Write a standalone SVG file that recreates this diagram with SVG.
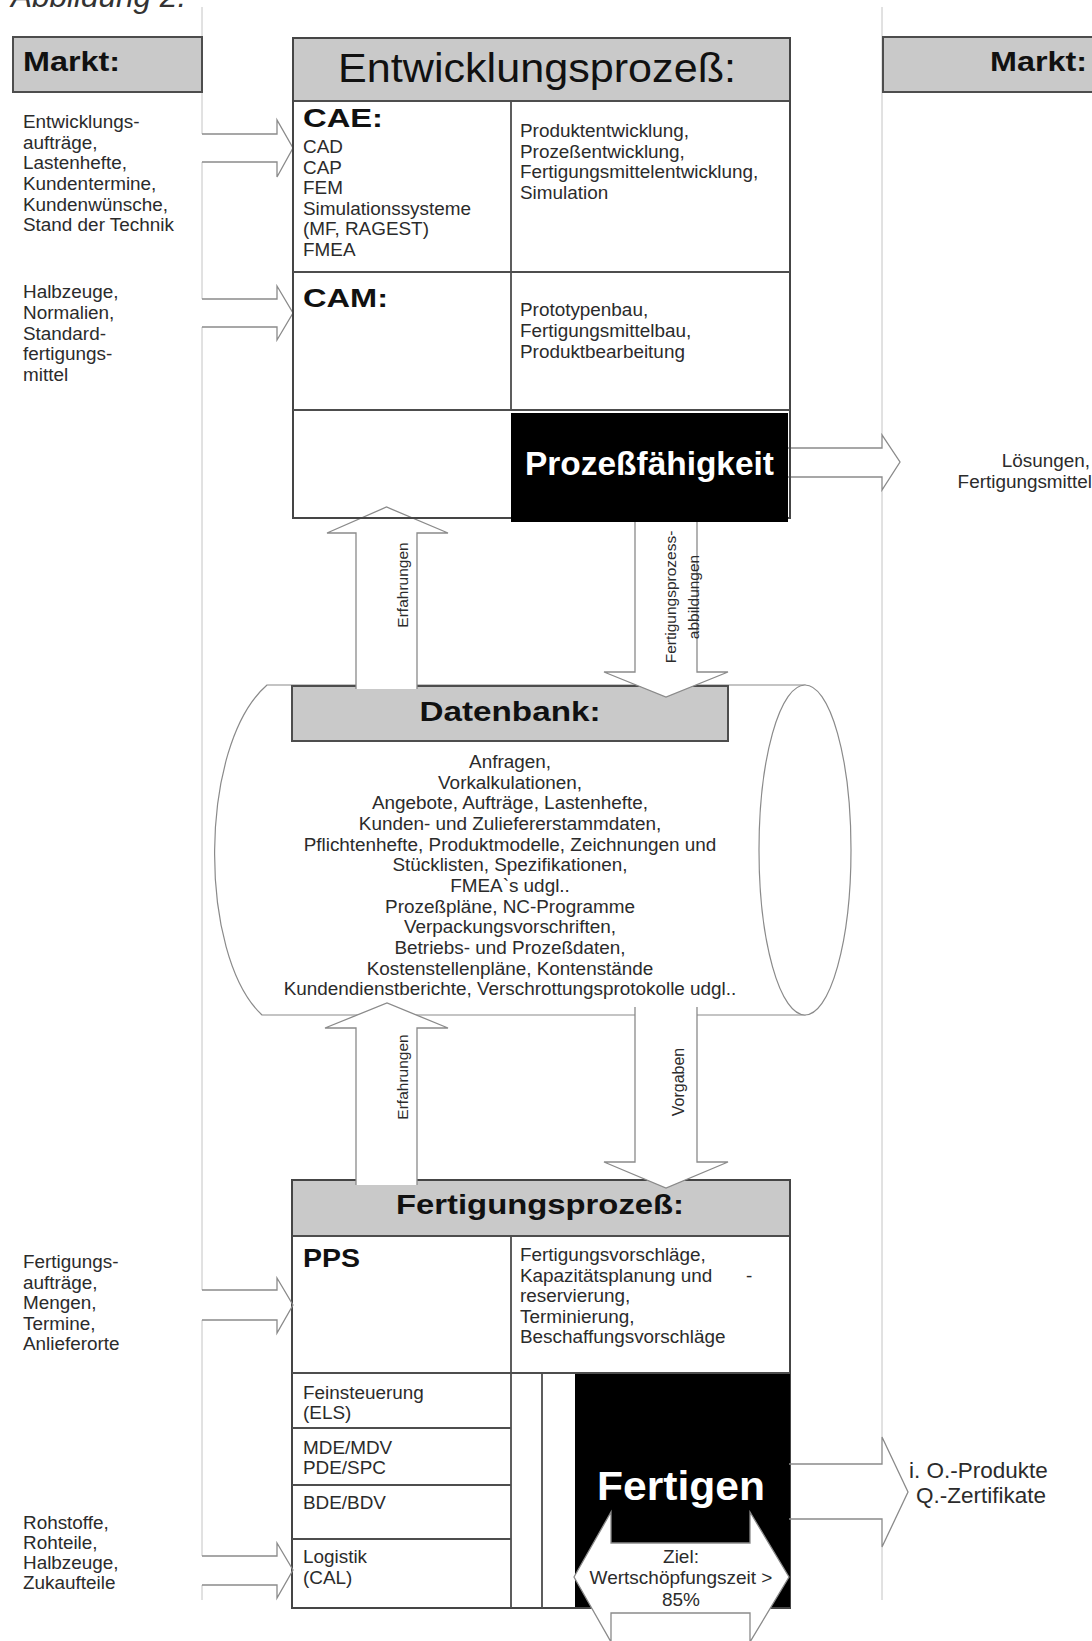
<svg xmlns="http://www.w3.org/2000/svg" width="1092" height="1641" viewBox="0 0 1092 1641">
  <style>
    text { font-family: "Liberation Sans", Arial, sans-serif; }
    .t { font-size: 18.9px; fill: #2b2b2b; }
    .b { font-weight: bold; fill: #111; }
    .w { fill: #fff; font-weight: bold; }
    .lab { font-size: 15.5px; fill: #2b2b2b; }
    .hdr { fill: #c9c9c9; stroke: #4d4d4d; stroke-width: 2; }
    .frame { fill: none; stroke: #454545; stroke-width: 2; }
    .rule { fill: none; stroke: #4d4d4d; stroke-width: 1.8; }
    .blk { fill: #000; }
    .guide { fill: none; stroke: #c4c4c4; stroke-width: 1; }
    .arr { fill: none; stroke: #8a8a8a; stroke-width: 1.3; stroke-linejoin: miter; }
    .arrfill { fill: #fff; stroke: none; }
    .barrel { fill: #fff; stroke: #8a8a8a; stroke-width: 1.2; }
  </style>

  <rect x="0" y="0" width="1092" height="1641" fill="#fff"/>

  <!-- caption, mostly above the page edge -->
  <g id="caption">
    <text x="11" y="7" font-size="31.5" font-style="italic" fill="#333">Abbildung 2:</text>
  </g>

  <!-- thin market boundary lines, interrupted where the block arrows pass -->
  <g id="guides">
    <path class="guide" d="M202,7 V134 M202,162 V299 M202,327 V1290 M202,1320 V1556 M202,1585 V1600"/>
    <path class="guide" d="M882,7 V435 M882,490 V1437 M882,1547 V1600"/>
  </g>

  <!-- database barrel -->
  <g id="datenbank">
    <path class="barrel" d="M267,685 H805 V1015 H262 C198,955 198,745 267,685 Z"/>
    <ellipse class="barrel" cx="805" cy="850" rx="46" ry="165"/>
    <rect class="hdr" x="292" y="686" width="436" height="55"/>
    <text class="b" x="510" y="721" font-size="28" text-anchor="middle" textLength="181" lengthAdjust="spacingAndGlyphs">Datenbank:</text>
    <g class="t" text-anchor="middle">
      <text x="510" y="768">Anfragen,</text>
      <text x="510" y="788.6">Vorkalkulationen,</text>
      <text x="510" y="809.3">Angebote, Aufträge, Lastenhefte,</text>
      <text x="510" y="830">Kunden- und Zuliefererstammdaten,</text>
      <text x="510" y="850.6">Pflichtenhefte, Produktmodelle, Zeichnungen und</text>
      <text x="510" y="871.3">Stücklisten, Spezifikationen,</text>
      <text x="510" y="892">FMEA`s udgl..</text>
      <text x="510" y="912.6">Prozeßpläne, NC-Programme</text>
      <text x="510" y="933.3">Verpackungsvorschriften,</text>
      <text x="510" y="954">Betriebs- und Prozeßdaten,</text>
      <text x="510" y="974.6">Kostenstellenpläne, Kontenstände</text>
      <text x="510" y="995.3">Kundendienstberichte, Verschrottungsprotokolle udgl..</text>
    </g>
  </g>

  <!-- manufacturing process block -->
  <g id="fertigung">
    <rect class="hdr" x="292" y="1180" width="498" height="56"/>
    <rect class="frame" x="292" y="1180" width="498" height="428"/>
    <path class="rule" d="M292,1373 H790 M511,1236 V1608 M542,1373 V1608 M292,1428 H511 M292,1485 H511 M292,1539 H511"/>
    <rect class="blk" x="575" y="1374" width="215" height="233"/>
    <text class="b" x="540" y="1214" font-size="28" text-anchor="middle" textLength="288" lengthAdjust="spacingAndGlyphs">Fertigungsprozeß:</text>
    <text class="b" x="303" y="1267" font-size="26" textLength="57" lengthAdjust="spacingAndGlyphs">PPS</text>
    <g class="t">
      <text x="520" y="1261">Fertigungsvorschläge,</text>
      <text x="520" y="1281.5">Kapazitätsplanung und</text>
      <text x="746" y="1281.5">-</text>
      <text x="520" y="1302">reservierung,</text>
      <text x="520" y="1322.5">Terminierung,</text>
      <text x="520" y="1343">Beschaffungsvorschläge</text>
      <text x="303" y="1399">Feinsteuerung</text>
      <text x="303" y="1419">(ELS)</text>
      <text x="303" y="1454">MDE/MDV</text>
      <text x="303" y="1474">PDE/SPC</text>
      <text x="303" y="1509">BDE/BDV</text>
      <text x="303" y="1563">Logistik</text>
      <text x="303" y="1584">(CAL)</text>
    </g>
    <text class="w" x="681" y="1500" font-size="40" text-anchor="middle" textLength="168" lengthAdjust="spacingAndGlyphs">Fertigen</text>
    <!-- two-headed value-added arrow -->
    <polygon points="574,1577 611,1512 611,1543 750,1543 750,1512 789,1577 750,1642 750,1613 611,1613 611,1642" fill="#fff" stroke="#8a8a8a" stroke-width="1.3"/>
    <g class="t" text-anchor="middle">
      <text x="681" y="1563" font-size="19">Ziel:</text>
      <text x="681" y="1584" font-size="19">Wertschöpfungszeit &gt;</text>
      <text x="681" y="1606" font-size="19">85%</text>
    </g>
  </g>

  <!-- block arrows between the process blocks and the markets -->
  <g id="connectors">
    <!-- inputs from the market -->
    <path class="arr" d="M202,134 H277 V120 L293,148 L277,177 V162 H202"/>
    <path class="arr" d="M202,299 H277 V286 L293,313 L277,340 V327 H202"/>
    <path class="arr" d="M202,1290 H277 V1278 L293,1305 L277,1333 V1320 H202"/>
    <path class="arr" d="M202,1556 H277 V1543 L293,1570 L277,1598 V1585 H202"/>
    <!-- outputs to the market -->
    <path class="arr" d="M788,448 H882 V435 L900,462 L882,490 V477 H788"/>
    <path class="arr" d="M789,1464 H882 V1437 L908,1492 L882,1547 V1519 H789"/>

    <!-- Erfahrungen: database to development -->
    <polygon class="arrfill" points="356,689 356,533 327,533 386.5,507 448,533 417,533 417,689"/>
    <path class="arr" d="M356,689 V533 H327 L386.5,507 L448,533 H417 V689"/>
    <!-- Fertigungsprozessabbildungen: development to database -->
    <polygon class="arrfill" points="635,522 635,672 604,672 666,697 728,672 697,672 697,522"/>
    <path class="arr" d="M635,522 V672 H604 L666,697 L728,672 H697 V522"/>
    <!-- Erfahrungen: manufacturing to database -->
    <polygon class="arrfill" points="356,1185 356,1028 325,1028 387,1003 448,1028 417,1028 417,1185"/>
    <path class="arr" d="M356,1185 V1028 H325 L387,1003 L448,1028 H417 V1185"/>
    <!-- Vorgaben: database to manufacturing -->
    <polygon class="arrfill" points="635,1007 635,1162 604,1162 666,1188 728,1162 697,1162 697,1007"/>
    <path class="arr" d="M635,1007 V1162 H604 L666,1188 L728,1162 H697 V1007"/>

    <g class="lab" text-anchor="middle">
      <text transform="translate(408,585) rotate(-90)">Erfahrungen</text>
      <text transform="translate(676,597) rotate(-90)">Fertigungsprozess-</text>
      <text transform="translate(699,597) rotate(-90)">abbildungen</text>
      <text transform="translate(408,1077) rotate(-90)">Erfahrungen</text>
      <text transform="translate(684,1082) rotate(-90)" font-size="16">Vorgaben</text>
    </g>

    <g class="t" text-anchor="end">
      <text x="1090" y="467">Lösungen,</text>
      <text x="1092" y="488">Fertigungsmittel</text>
    </g>
    <g class="t">
      <text x="909" y="1478" font-size="22.5">i. O.-Produkte</text>
      <text x="916" y="1503" font-size="22.5">Q.-Zertifikate</text>
    </g>
  </g>

  <!-- development process block -->
  <g id="entwicklung">
    <rect class="hdr" x="293" y="38" width="497" height="63"/>
    <rect class="frame" x="293" y="38" width="497" height="480"/>
    <path class="rule" d="M511,101 V410 M293,272 H790 M293,410 H790"/>
    <rect class="blk" x="511" y="413" width="277" height="109"/>
    <text x="338" y="82" font-size="41" fill="#111" textLength="398" lengthAdjust="spacingAndGlyphs">Entwicklungsprozeß:</text>
    <text class="b" x="303" y="127" font-size="26" textLength="80" lengthAdjust="spacingAndGlyphs">CAE:</text>
    <text class="b" x="303" y="307" font-size="26" textLength="85" lengthAdjust="spacingAndGlyphs">CAM:</text>
    <g class="t">
      <text x="303" y="153">CAD</text>
      <text x="303" y="173.6">CAP</text>
      <text x="303" y="194.2">FEM</text>
      <text x="303" y="214.8">Simulationssysteme</text>
      <text x="303" y="235.4">(MF, RAGEST)</text>
      <text x="303" y="256">FMEA</text>
      <text x="520" y="137">Produktentwicklung,</text>
      <text x="520" y="157.5">Prozeßentwicklung,</text>
      <text x="520" y="178">Fertigungsmittelentwicklung,</text>
      <text x="520" y="198.5">Simulation</text>
      <text x="520" y="316">Prototypenbau,</text>
      <text x="520" y="337">Fertigungsmittelbau,</text>
      <text x="520" y="358">Produktbearbeitung</text>
    </g>
    <text class="w" x="525" y="475" font-size="33" textLength="249" lengthAdjust="spacingAndGlyphs">Prozeßfähigkeit</text>
  </g>

  <!-- market columns -->
  <g id="markt-links">
    <rect class="hdr" x="13" y="37" width="189" height="55"/>
    <text class="b" x="23" y="71" font-size="28" textLength="97" lengthAdjust="spacingAndGlyphs">Markt:</text>
  </g>
  <g id="markt-rechts">
    <rect class="hdr" x="883" y="37" width="220" height="55"/>
    <text class="b" x="1087" y="71" font-size="28" text-anchor="end" textLength="97" lengthAdjust="spacingAndGlyphs">Markt:</text>
  </g>

  <g id="eingang-entwicklung" class="t">
    <text x="23" y="128">Entwicklungs-</text>
    <text x="23" y="149">aufträge,</text>
    <text x="23" y="169">Lastenhefte,</text>
    <text x="23" y="190">Kundentermine,</text>
    <text x="23" y="211">Kundenwünsche,</text>
    <text x="23" y="231">Stand der Technik</text>
  </g>
  <g id="eingang-cam" class="t">
    <text x="23" y="298">Halbzeuge,</text>
    <text x="23" y="319">Normalien,</text>
    <text x="23" y="340">Standard-</text>
    <text x="23" y="360">fertigungs-</text>
    <text x="23" y="381">mittel</text>
  </g>
  <g id="eingang-pps" class="t">
    <text x="23" y="1268">Fertigungs-</text>
    <text x="23" y="1289">aufträge,</text>
    <text x="23" y="1309">Mengen,</text>
    <text x="23" y="1330">Termine,</text>
    <text x="23" y="1350">Anlieferorte</text>
  </g>
  <g id="eingang-logistik" class="t">
    <text x="23" y="1529">Rohstoffe,</text>
    <text x="23" y="1549">Rohteile,</text>
    <text x="23" y="1569">Halbzeuge,</text>
    <text x="23" y="1589">Zukaufteile</text>
  </g>
</svg>
